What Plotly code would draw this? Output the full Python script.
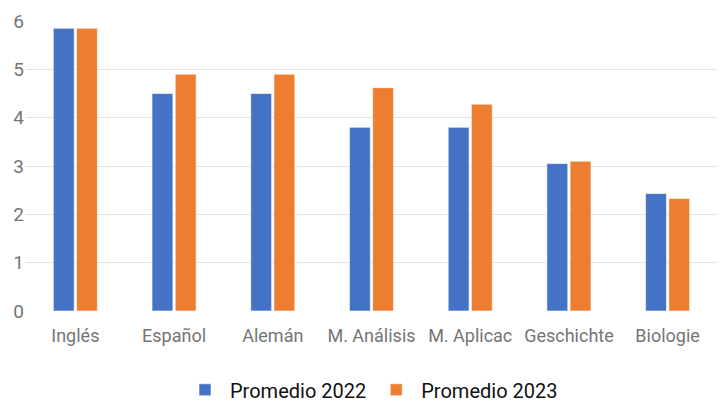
import plotly.graph_objects as go

# Promedio por asignatura
materias = ["Inglés", "Español", "Alemán", "M. Análisis", "M. Aplicac", "Geschichte", "Biologie"]
promedio_2022 = [5.85, 4.5, 4.5, 3.8, 3.8, 3.05, 2.43]
promedio_2023 = [5.85, 4.9, 4.9, 4.62, 4.28, 3.1, 2.33]

_BLUE = "#4472C4"
_ORANGE = "#ED7D31"

fig = go.Figure()
fig.add_trace(go.Bar(
    x=materias, y=promedio_2022, name="Promedio 2022",
    marker=dict(color=_BLUE, line=dict(color="rgba(255,255,255,0.6)", width=1)),
))
fig.add_trace(go.Bar(
    x=materias, y=promedio_2023, name="Promedio 2023",
    marker=dict(color=_ORANGE, line=dict(color="rgba(255,255,255,0.6)", width=1)),
))

# the page body adds an 8px offset, so margins are shifted to compensate
fig.update_layout(
    width=727, height=404,
    paper_bgcolor="white", plot_bgcolor="white",
    font=dict(family="Roboto, sans-serif", size=18, color="#757575"),
    barmode="group", bargap=0.53, bargroupgap=0.1,
    margin=dict(l=18, r=18, t=13, b=101, autoexpand=False),
    showlegend=True,
    legend=dict(
        orientation="h", x=0.5, xanchor="center",
        yref="container", y=0.055, yanchor="middle",
        font=dict(size=20, color="#111111"), itemwidth=40,
    ),
)
fig.update_xaxes(
    showgrid=False, showline=False, zeroline=False, automargin=False,
    ticks="outside", ticklen=8, tickcolor="white",
    tickfont=dict(size=18, color="#757575"),
)
fig.update_yaxes(
    range=[0, 6], dtick=1, showline=False, zeroline=False, automargin=False,
    gridcolor="#e3e3e3", gridwidth=1,
    ticks="", ticklabelstandoff=1,
    tickfont=dict(size=19, color="#757575"),
)

fig.write_html("out.html")
